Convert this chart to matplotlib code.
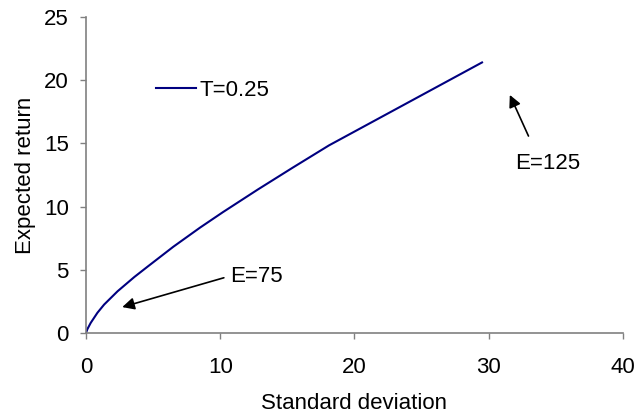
import matplotlib
matplotlib.use("Agg")
import matplotlib.pyplot as plt

# data
std_dev = [0, 0.1, 0.35, 0.85, 1.35, 2.35, 3.6, 4.6, 6.5, 8.5, 10.2, 12.8, 15.4, 18.1, 29.5]
exp_return = [0, 0.3, 0.8, 1.6, 2.25, 3.3, 4.43, 5.26, 6.82, 8.34, 9.56, 11.35, 13.08, 14.84, 21.4]
series_label = "T=0.25"
x_ticks = [0, 10, 20, 30, 40]
y_ticks = [0, 5, 10, 15, 20, 25]

# annotations: (label, arrow head, arrow tail, text position)
notes = [
    ("E=75", (2.7, 2.05), (10.27, 4.37), (10.7, 4.45)),
    ("E=125", (31.57, 18.83), (32.96, 15.58), (32.0, 13.4)),
]

plt.rcParams['font.family'] = ['Liberation Sans', 'DejaVu Sans']
plt.rcParams['font.size'] = 16

fig = plt.figure(figsize=(6.37, 4.17), dpi=100)
ax = fig.add_axes([0.135, 0.2014, 0.843, 0.758])

ax.plot(std_dev, exp_return, color='#000080', lw=1.5, label=series_label)

ax.set_xlim(0, 40)
ax.set_ylim(0, 25)
ax.set_xticks(x_ticks)
ax.set_yticks(y_ticks)

for side in ['top', 'right']:
    ax.spines[side].set_visible(False)
for side in ['left', 'bottom']:
    ax.spines[side].set_color('#808080')
    ax.spines[side].set_linewidth(1.2)
ax.tick_params(axis='both', colors='#808080', labelcolor='black', length=4.3, width=1)
ax.tick_params(axis='x', pad=13)
ax.tick_params(axis='y', pad=8)

ax.set_xlabel("Standard deviation", labelpad=11)
ax.set_ylabel("Expected return", labelpad=6)

ax.legend(loc='center left', bbox_to_anchor=(0.1298, 0.767), frameon=False,
          handlelength=1.8, handletextpad=0.18, borderaxespad=0, borderpad=0)

for label, head, tail, pos in notes:
    ax.annotate("", xy=head, xytext=tail,
                arrowprops=dict(arrowstyle='-|>', color='black', lw=1.2,
                                mutation_scale=18, shrinkA=0, shrinkB=0))
    ax.text(pos[0], pos[1], label, va='center', ha='left')

fig.savefig("out.png", dpi=100)
